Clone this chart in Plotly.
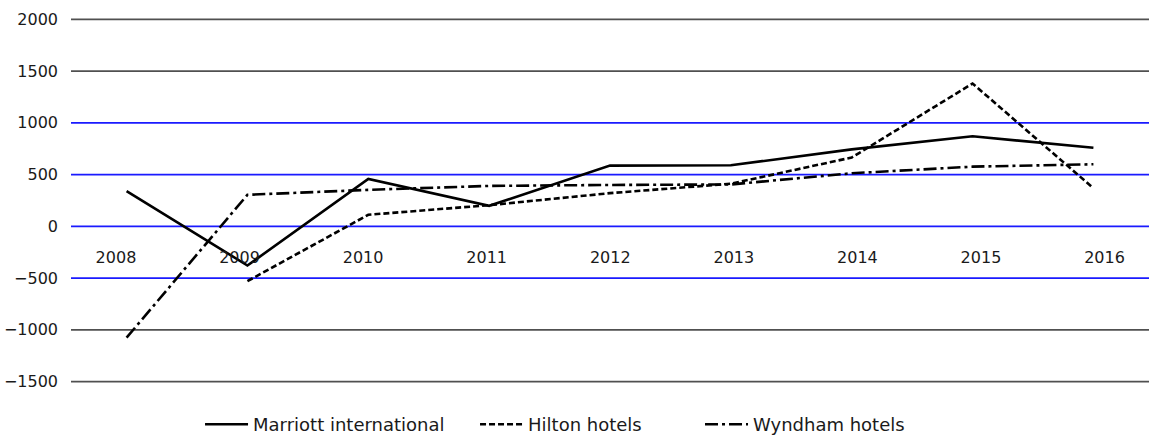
import plotly.graph_objects as go

years = ["2008", "2009", "2010", "2011", "2012", "2013", "2014", "2015", "2016"]
marriott = [340, -378, 459, 199, 587, 590, 744, 870, 760]
hilton = [None, -529, 112, 205, 321, 412, 665, 1380, 369]
wyndham = [-1075, 305, 353, 391, 400, 405, 513, 577, 600]

y_ticks = [2000, 1500, 1000, 500, 0, -500, -1000, -1500]
blue_grid = [1000, 500, 0, -500]
gray_grid = [2000, 1500, -1000, -1500]

FONT = "DejaVu Sans"
idx = list(range(len(years)))

fig = go.Figure()
fig.add_trace(go.Scatter(x=idx, y=marriott, mode="lines", name="Marriott international",
                         line=dict(color="black", width=2.6), legend="legend"))
fig.add_trace(go.Scatter(x=idx, y=hilton, mode="lines", name="Hilton hotels",
                         line=dict(color="black", width=2.6, dash="6px,3px"), legend="legend2"))
fig.add_trace(go.Scatter(x=idx, y=wyndham, mode="lines", name="Wyndham hotels",
                         line=dict(color="black", width=2.6, dash="13px,4px,3px,4px"), legend="legend3"))
# invisible carrier trace so the label axis (category labels) is rendered
fig.add_trace(go.Scatter(x=idx, y=marriott, xaxis="x2", mode="lines",
                         line=dict(color="rgba(0,0,0,0)", width=0), showlegend=False,
                         hoverinfo="skip"))

shapes = []
for v in blue_grid:
    shapes.append(dict(type="line", xref="paper", x0=0, x1=1, yref="y", y0=v, y1=v,
                       line=dict(color="#1a1aff", width=1.6), layer="below"))
for v in gray_grid:
    shapes.append(dict(type="line", xref="paper", x0=0, x1=1, yref="y", y0=v, y1=v,
                       line=dict(color="#505050", width=1.6), layer="below"))

leg_common = dict(orientation="h", yref="container", yanchor="middle", y=0.024,
                  xanchor="left", itemwidth=43,
                  font=dict(family=FONT, size=18, color="#1a1a1a"), bgcolor="rgba(0,0,0,0)")

fig.update_layout(
    width=1149, height=435,
    margin=dict(l=71, r=0, t=9, b=43, autoexpand=False),
    paper_bgcolor="white", plot_bgcolor="white",
    showlegend=True,
    shapes=shapes,
    legend=dict(x=0.1197, **leg_common),
    legend2=dict(x=0.3748, **leg_common),
    legend3=dict(x=0.5835, **leg_common),
    xaxis=dict(range=[-0.46, 8.46], showgrid=False, showline=False, zeroline=False,
               showticklabels=False, ticks=""),
    xaxis2=dict(overlaying="x", anchor="free", position=0.38, range=[-0.364, 8.36],
                tickvals=idx, ticktext=years, showgrid=False, showline=False,
                zeroline=False, ticks="",
                tickfont=dict(family=FONT, size=16, color="#1a1a1a")),
    yaxis=dict(range=[-1600, 2100], tickvals=y_ticks, showgrid=False, zeroline=False,
               showline=False, ticks="", ticklabelstandoff=12,
               tickfont=dict(family=FONT, size=16, color="#1a1a1a")),
)

fig.write_html("out.html", config={"displayModeBar": False},
               post_script="document.body.style.margin='0';document.documentElement.style.overflow='hidden';document.body.style.overflow='hidden';")
